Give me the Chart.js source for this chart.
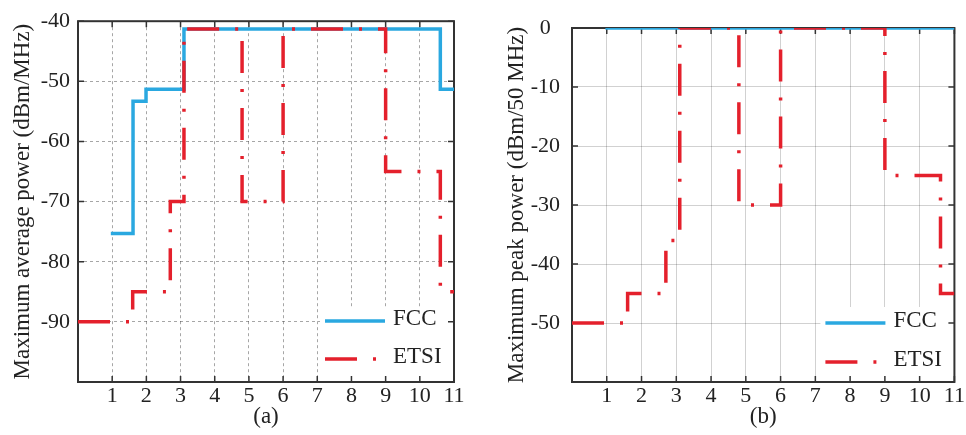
<!DOCTYPE html>
<html><head><meta charset="utf-8">
<script src="https://cdn.jsdelivr.net/npm/chart.js@4/dist/chart.umd.min.js"></script>
<style>
html,body{margin:0;padding:0;background:#fff;}
#wrap{position:relative;width:966px;height:435px;background:#fff;}
canvas{position:absolute;top:0;}
</style></head><body>
<div id="wrap">
<canvas id="ca" width="483" height="435" style="left:0"></canvas>
<canvas id="cb" width="483" height="435" style="left:483px"></canvas>
</div>
<script>
// ---- data ----
const xTickValues = [0,1,2,3,4,5,6,7,8,9,10,11];
const xTickLabels = ['', '1','2','3','4','5','6','7','8','9','10','11'];

const avgTickValues = [-100,-90,-80,-70,-60,-50,-40];
const avgTickLabels = ['', '-90','-80','-70','-60','-50','-40'];
const peakTickValues = [-60,-50,-40,-30,-20,-10,0];
const peakTickLabels = ['', '-50','-40','-30','-20','-10','0'];

// (a) maximum average power, step values hold from each x until the next x
const fccAvgX  = [0.96, 1.61, 1.99, 3.1, 10.6, 11];
const fccAvgY  = [-75.3, -53.3, -51.3, -41.3, -51.3, -51.3];
const etsiAvgX = [0, 1.6, 2.7, 3.1, 4.8, 6, 9, 10.6, 11];
const etsiAvgY = [-90, -85, -70, -41.3, -70, -41.3, -65, -85, -85];

// (b) maximum peak power
const fccPeakX  = [0.96, 11];
const fccPeakY  = [0, 0];
const etsiPeakX = [0, 1.6, 2.7, 3.1, 4.8, 6, 9, 10.6, 11];
const etsiPeakY = [-50, -45, -36, 0, -30, 0, -25, -45, -45];

const seriesLabels = ['FCC', 'ETSI'];

// ---- style ----
const FONT = "'Liberation Serif', 'Times New Roman', serif";
const BLUE = '#2aa8e0', RED = '#e4202c', TEXT = '#222';
const DASHDOT = [32, 16, 3, 16];

function pts(xs, ys){ return xs.map((x,i)=>({x:x, y:ys[i]})); }

const framePlugin = {
  id: 'frame',
  beforeDatasetsDraw(chart, args, opts){
    const ctx = chart.ctx, a = chart.chartArea;
    const xs = chart.scales.x, ys = chart.scales.y;
    ctx.save();
    // legend box (white, covers grid)
    const bx = a.right - opts.legendW, by = a.bottom - opts.legendH;
    ctx.fillStyle = '#fff';
    ctx.fillRect(bx, by, opts.legendW, opts.legendH);
    chart.data.datasets.forEach((ds, i) => {
      const ry = a.bottom - opts.rows[i];
      const sx = bx + opts.sampleOffset;
      ctx.strokeStyle = ds.borderColor; ctx.lineWidth = ds.borderWidth; ctx.lineCap = 'butt';
      ctx.setLineDash(ds.borderDash || []);
      ctx.beginPath(); ctx.moveTo(sx, ry); ctx.lineTo(sx + (ds.borderDash ? 51 : 60), ry); ctx.stroke();
      ctx.setLineDash([]);
      ctx.fillStyle = TEXT; ctx.font = '23px ' + FONT; ctx.textBaseline = 'middle'; ctx.textAlign = 'left';
      ctx.fillText(ds.label, sx + 68, ry - 2);
    });
    // frame
    ctx.strokeStyle = '#333'; ctx.lineWidth = 2;
    ctx.strokeRect(a.left, a.top, a.right - a.left, a.bottom - a.top);
    // inward tick marks on all four sides
    ctx.lineWidth = 1.5;
    ctx.beginPath();
    xs.ticks.forEach(t => { const p = xs.getPixelForValue(t.value);
      ctx.moveTo(p, a.bottom); ctx.lineTo(p, a.bottom - 6);
      ctx.moveTo(p, a.top); ctx.lineTo(p, a.top + 6); });
    ys.ticks.forEach(t => { const p = ys.getPixelForValue(t.value);
      ctx.moveTo(a.left, p); ctx.lineTo(a.left + 6, p);
      ctx.moveTo(a.right, p); ctx.lineTo(a.right - 6, p); });
    ctx.stroke();
    ctx.restore();
  }
};

function makeChart(id, c){
  return new Chart(document.getElementById(id), {
    type: 'line',
    data: { datasets: [
      { label: seriesLabels[0], data: pts(c.fx, c.fy), borderColor: BLUE, borderWidth: 3.5,
        stepped: true, pointRadius: 0, order: 1, fill: false },
      { label: seriesLabels[1], data: pts(c.ex, c.ey), borderColor: RED, borderWidth: 3.5,
        borderDash: DASHDOT, stepped: true, pointRadius: 0, order: 0, fill: false }
    ]},
    options: {
      responsive: false, animation: false, devicePixelRatio: 1,
      layout: { padding: { left: 0, top: c.top, right: c.right, bottom: 0 } },
      plugins: { legend: { display: false }, tooltip: { enabled: false },
        frame: { legendW: 134, legendH: 75, sampleOffset: 5, rows: c.rows } },
      scales: {
        x: {
          type: 'linear', min: 0, max: 11,
          afterFit(s){ s.height = 53; },
          afterBuildTicks(s){ s.ticks = xTickValues.map(v => ({ value: v })); },
          ticks: { autoSkip: false, maxRotation: 0, padding: 1, color: TEXT,
            font: { family: FONT, size: 22 },
            callback: (v) => xTickLabels[xTickValues.indexOf(v)] },
          grid: { color: c.gridColor, lineWidth: 1, drawTicks: false },
          border: { display: false, dash: c.dash },
          title: { display: true, text: c.sub, color: TEXT, font: { family: FONT, size: 23 },
            padding: { top: 0, bottom: 4 } }
        },
        y: {
          type: 'linear', min: c.tv[0], max: c.tv[c.tv.length-1],
          afterFit(s){ s.width = c.yw; },
          afterBuildTicks(s){ s.ticks = c.tv.map(v => ({ value: v })); },
          ticks: { autoSkip: false, padding: c.yPad, crossAlign: 'center', color: TEXT,
            font: { family: FONT, size: 22 },
            callback: (v) => c.tl[c.tv.indexOf(v)] },
          grid: { color: c.gridColor, lineWidth: 1, drawTicks: false },
          border: { display: false, dash: c.dash },
          title: { display: true, text: c.ytitle, color: TEXT, font: { family: FONT, size: 23 },
            padding: { top: c.tPad, bottom: 0 } }
        }
      }
    },
    plugins: [framePlugin]
  });
}

makeChart('ca', { fx: fccAvgX, fy: fccAvgY, ex: etsiAvgX, ey: etsiAvgY,
  tv: avgTickValues, tl: avgTickLabels, top: 20, right: 29, yw: 78, yPad: 8, tPad: 9,
  ytitle: 'Maximum average power (dBm/MHz)', sub: '(a)',
  gridColor: 'rgba(0,0,0,0.35)', dash: [3,3], rows: [61, 23] });

makeChart('cb', { fx: fccPeakX, fy: fccPeakY, ex: etsiPeakX, ey: etsiPeakY,
  tv: peakTickValues, tl: peakTickLabels, top: 28, right: 10, yw: 89, yPad: 12, tPad: 20,
  ytitle: 'Maximum peak power (dBm/50 MHz)', sub: '(b)',
  gridColor: 'rgba(0,0,0,0.18)', dash: [], rows: [59, 20] });
</script>
</body></html>
